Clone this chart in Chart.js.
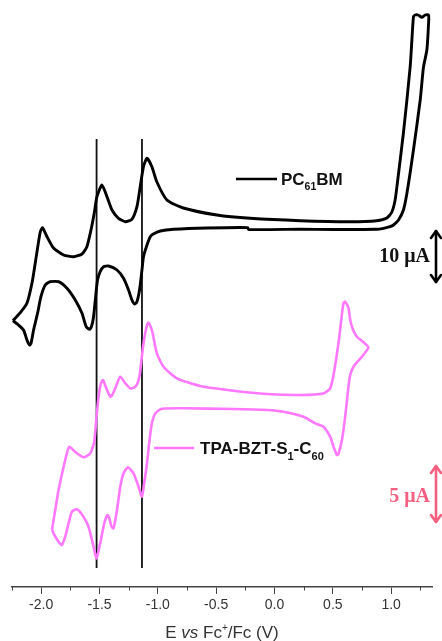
<!DOCTYPE html>
<html><head><meta charset="utf-8">
<script src="https://cdn.jsdelivr.net/npm/chart.js@4.4.0/dist/chart.umd.min.js"></script>
<style>html,body{margin:0;padding:0;background:#fff}#wrap{width:442px;height:641px;position:relative}</style>
</head><body><div id="wrap"><canvas id="c" width="442" height="641"></canvas></div>
<script>
// Potential (V vs Fc+/Fc) and offset current (a.u.)
const pcbmE = [-2.242,-2.179,-2.122,-2.079,-2.051,-2.008,-1.988,-1.950,-1.894,-1.808,-1.722,-1.650,-1.608,-1.573,-1.545,-1.522,-1.479,-1.436,-1.393,-1.337,-1.279,-1.222,-1.179,-1.151,-1.123,-1.093,-1.051,-1.008,-0.922,-0.782,-0.494,-0.208,0.220,0.649,0.877,0.963,1.006,1.034,1.051,1.105,1.163,1.191,1.205,1.231,1.263,1.291,1.320,
  1.322,1.306,1.277,1.249,1.191,1.135,1.105,1.063,1.020,0.991,0.934,0.877,0.503,0.220,-0.223,-0.230,-0.579,-0.865,-0.979,-1.039,-1.065,-1.093,-1.123,-1.136,-1.157,-1.179,-1.200,-1.222,-1.251,-1.294,-1.350,-1.422,-1.465,-1.494,-1.517,-1.536,-1.551,-1.565,-1.585,-1.614,-1.650,-1.708,-1.779,-1.851,-1.922,-1.965,-2.002,-2.031,-2.065,-2.087,-2.099,-2.122,-2.151,-2.194,-2.242];
const pcbmI = [266.3,274.3,283.7,303.7,323.7,355,359.3,350.3,339,332,330.3,333,340.3,357,374,390.3,402,390.3,377,368.7,365.3,367.7,380.3,400.3,420.3,428.7,420.3,405,387,379,372,368.7,366.3,365.3,366.3,369,375,387,402,454,520.3,570.3,572,572,569.7,572,572,
  567,537,520,487,437,393.7,377,367,362,360.3,358.7,357.7,357.5,357.7,357.5,359.4,359,357.7,356,353,350.3,342,330.3,317,297,285.3,283,287,297,308.7,317,321,320.3,315.3,307,287,270.3,262,257.7,260.3,273.7,287,298.7,305.3,305.3,302,290.3,273.7,257,243.7,242,247,257,262,266.3];
const tpaE = [-1.907,-1.879,-1.851,-1.794,-1.759,-1.708,-1.637,-1.579,-1.545,-1.528,-1.508,-1.489,-1.470,-1.442,-1.408,-1.391,-1.365,-1.322,-1.279,-1.237,-1.202,-1.177,-1.155,-1.142,-1.123,-1.093,-1.080,-1.051,-1.008,-0.951,-0.836,-0.637,-0.351,-0.065,0.220,0.420,0.477,0.506,0.548,0.572,0.591,0.606,0.634,0.649,0.674,0.706,0.751,0.805,
  0.749,0.677,0.649,0.634,0.606,0.578,0.548,0.535,0.506,0.477,0.420,0.349,0.249,0.077,-0.065,-0.351,-0.780,-0.937,-0.979,-1.022,-1.051,-1.071,-1.093,-1.117,-1.136,-1.165,-1.208,-1.256,-1.294,-1.322,-1.350,-1.380,-1.399,-1.416,-1.431,-1.459,-1.494,-1.525,-1.551,-1.594,-1.637,-1.693,-1.736,-1.765,-1.794,-1.822,-1.851,-1.894,-1.907];
const tpaI = [57.7,77,97,127,140.3,135,129.7,133.7,145.3,167,190.3,203,207,198.7,190.3,192,198.7,210.3,203.7,198.7,199.5,203,212,225,243.7,262,264.3,257,233.7,220.3,208.7,201,196.3,193,192,193.5,198.7,212,243.7,267,283.7,285.3,279,267,257,250.3,246,239.7,
  230.3,220.3,212,200.3,170.3,147,133,132,140.3,150.3,160.3,163.7,170.3,175.3,177,178,178.7,178.5,177.7,173.7,163.7,147,123.7,103.7,90.3,100.3,113.7,119.7,113.7,100.3,77,58.7,61,69,72,63.7,43.7,28.7,40.3,60.3,70.3,77.7,75.3,63.7,50.3,42,45.3,53.7,57.7];
const markerE = [-1.525, -1.136];
const markerSpan = [19, 448];
const majorTicks = [-2.0,-1.5,-1.0,-0.5,0.0,0.5,1.0];
const minorTicks = [-2.25,-1.75,-1.25,-0.75,-0.25,0.25,0.75,1.25];
const seriesNames = ['PC61BM', 'TPA-BZT-S1-C60'];
const scaleLabels = ['10 \u03bcA', '5 \u03bcA'];

const BLACK = '#000000', PINK = '#ff78ff', SALMON = '#f4607f', AXIS = '#444444';
const pts = (xs, ys) => xs.map((x, i) => ({x, y: ys[i]}));

const datasets = [
  {data: pts(pcbmE, pcbmI), borderColor: BLACK, borderWidth: 2.9},
  {data: pts(tpaE, tpaI), borderColor: PINK, borderWidth: 2.6},
].concat(markerE.map(e => ({data: [{x: e, y: markerSpan[0]}, {x: e, y: markerSpan[1]}], borderColor: '#111', borderWidth: 1.8})));
datasets.forEach(d => { d.showLine = true; d.pointRadius = 0; d.fill = false; d.tension = 0.2; });

function drawSubText(ctx, parts, x, y) {
  let cx = x;
  parts.forEach(([t, size, dy]) => {
    ctx.font = 'bold ' + size + 'px "Liberation Sans", Arial, sans-serif';
    ctx.fillText(t, cx, y + dy);
    cx += ctx.measureText(t).width;
  });
}
function arrow(ctx, x, y1, y2, color) {
  ctx.save();
  ctx.strokeStyle = color; ctx.lineWidth = 2.6; ctx.lineCap = 'round'; ctx.lineJoin = 'round';
  ctx.beginPath(); ctx.moveTo(x, y1 + 1); ctx.lineTo(x, y2 - 1); ctx.stroke();
  ctx.beginPath(); ctx.moveTo(x - 5, y1 + 8); ctx.lineTo(x, y1 + 1); ctx.lineTo(x + 5, y1 + 8); ctx.stroke();
  ctx.beginPath(); ctx.moveTo(x - 5, y2 - 8); ctx.lineTo(x, y2 - 1); ctx.lineTo(x + 5, y2 - 8); ctx.stroke();
  ctx.restore();
}

const annot = {
  id: 'annot',
  afterDraw(chart) {
    const ctx = chart.ctx, xs = chart.scales.x, area = chart.chartArea;
    ctx.save();
    ctx.strokeStyle = AXIS; ctx.lineWidth = 1;
    minorTicks.forEach(v => {
      const px = Math.round(xs.getPixelForValue(v)) + 0.5;
      ctx.beginPath(); ctx.moveTo(px, area.bottom); ctx.lineTo(px, area.bottom + 3.5); ctx.stroke();
    });
    ctx.fillStyle = '#333'; ctx.textBaseline = 'alphabetic';
    const fam = '"Liberation Sans", Arial, sans-serif';
    const tparts = [['E ', '17px ' + fam, 0], ['vs', 'italic 17px ' + fam, 0], [' Fc', '17px ' + fam, 0], ['+', '10px ' + fam, -7], ['/Fc (V)', '17px ' + fam, 0]];
    let w = 0; tparts.forEach(p => { ctx.font = p[1]; w += ctx.measureText(p[0]).width; });
    let cx = (area.left + area.right) / 2 - w / 2;
    tparts.forEach(p => { ctx.font = p[1]; ctx.fillText(p[0], cx, 638 + p[2]); cx += ctx.measureText(p[0]).width; });
    ctx.lineWidth = 2.6; ctx.lineCap = 'butt';
    ctx.strokeStyle = BLACK; ctx.beginPath(); ctx.moveTo(236, 179); ctx.lineTo(277, 179); ctx.stroke();
    ctx.fillStyle = '#111';
    drawSubText(ctx, [['PC', 17, 0], ['61', 10.5, 5], ['BM', 17, 0]], 281, 184.5);
    ctx.strokeStyle = PINK; ctx.beginPath(); ctx.moveTo(154, 448); ctx.lineTo(194, 448); ctx.stroke();
    drawSubText(ctx, [['TPA-BZT-S', 17, 0], ['1', 11, 6], ['-C', 17, 0], ['60', 11, 6]], 200, 453.5);
    ctx.font = 'bold 20px "Liberation Serif", "Times New Roman", serif';
    ctx.textAlign = 'right';
    ctx.fillStyle = '#111'; ctx.fillText(scaleLabels[0], 430, 262);
    ctx.fillStyle = SALMON; ctx.fillText(scaleLabels[1], 430, 502);
    arrow(ctx, 436, 230, 283, BLACK);
    arrow(ctx, 436, 465, 523, SALMON);
    ctx.restore();
  }
};

new Chart(document.getElementById('c'), {
  type: 'scatter',
  data: {datasets},
  options: {
    responsive: false, animation: false, devicePixelRatio: 1,
    layout: {padding: {left: 12, right: 10, top: 0, bottom: 0}},
    plugins: {legend: {display: false}, tooltip: {enabled: false}},
    scales: {
      x: {
        type: 'linear', position: 'bottom', min: -2.25, max: 1.35,
        afterBuildTicks: s => { s.ticks = majorTicks.map(v => ({value: v})); },
        afterFit: s => { s.height = 54; },
        grid: {drawOnChartArea: false, drawTicks: true, tickLength: 7, tickColor: AXIS, tickWidth: 1},
        border: {display: true, color: AXIS, width: 1.5},
        ticks: {autoSkip: false, maxRotation: 0, padding: 3, color: '#333',
          font: {family: '"Liberation Sans", Arial, sans-serif', size: 14},
          callback: v => (Math.abs(v) < 1e-9 ? 0 : v).toFixed(1)}
      },
      y: {display: false, min: 0, max: 587}
    }
  },
  plugins: [annot]
});
</script></body></html>
